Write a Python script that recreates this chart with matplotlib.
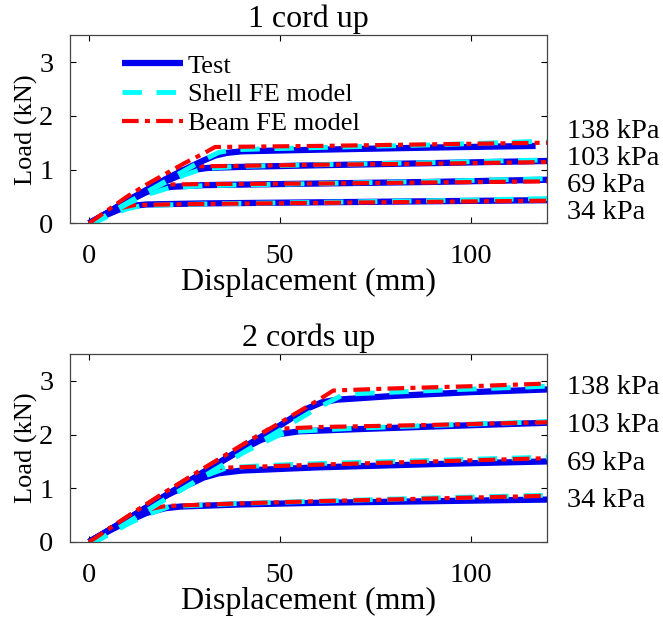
import matplotlib
matplotlib.use("Agg")
import matplotlib.pyplot as plt

plt.rcParams['font.family'] = ['Liberation Serif', 'DejaVu Serif']
plt.rcParams['font.size'] = 20

pressures = ["34 kPa", "69 kPa", "103 kPa", "138 kPa"]

# ---- 1 cord up: (displacement mm, load kN) ----
c1_test_x = [[0, 4, 8, 12, 15, 30, 60, 90, 120],
             [0, 5, 10, 15, 19, 22, 30, 60, 90, 120],
             [0, 5, 10, 15, 20, 25, 28, 31, 40, 60, 90, 120],
             [0, 5, 10, 15, 20, 25, 30, 33, 36, 40, 60, 90, 117]]
c1_test_y = [[0, 0.14, 0.26, 0.33, 0.35, 0.37, 0.39, 0.41, 0.43],
             [0, 0.2, 0.4, 0.58, 0.66, 0.68, 0.71, 0.74, 0.77, 0.81],
             [0, 0.2, 0.42, 0.6, 0.78, 0.93, 1.0, 1.03, 1.05, 1.08, 1.12, 1.16],
             [0, 0.2, 0.42, 0.62, 0.82, 1.0, 1.17, 1.26, 1.31, 1.34, 1.37, 1.41, 1.44]]
c1_shell_x = [[0, 1, 5, 10, 14, 30, 60, 90, 120],
              [0, 1, 5, 10, 15, 21, 30, 60, 90, 120],
              [0, 1, 5, 10, 15, 20, 25, 30, 40, 60, 90, 120],
              [0, 1, 5, 10, 15, 20, 25, 30, 34, 38, 60, 90, 120]]
c1_shell_y = [[0, 0, 0.13, 0.27, 0.33, 0.36, 0.39, 0.42, 0.46],
              [0, 0, 0.16, 0.36, 0.53, 0.66, 0.7, 0.74, 0.78, 0.83],
              [0, 0, 0.17, 0.38, 0.58, 0.76, 0.9, 1.02, 1.06, 1.09, 1.13, 1.18],
              [0, 0, 0.17, 0.38, 0.58, 0.78, 0.98, 1.18, 1.32, 1.37, 1.41, 1.46, 1.53]]
c1_beam_x = [[0, 4, 8, 12, 30, 60, 90, 120],
             [0, 5, 10, 15, 19, 30, 60, 90, 120],
             [0, 5, 10, 15, 20, 24, 28, 40, 60, 90, 120],
             [0, 5, 10, 15, 20, 25, 30, 33, 60, 90, 120]]
c1_beam_y = [[0, 0.16, 0.28, 0.34, 0.36, 0.38, 0.4, 0.42],
             [0, 0.22, 0.44, 0.62, 0.72, 0.73, 0.74, 0.76, 0.78],
             [0, 0.24, 0.48, 0.7, 0.88, 1.0, 1.06, 1.07, 1.09, 1.11, 1.14],
             [0, 0.25, 0.5, 0.72, 0.92, 1.12, 1.3, 1.42, 1.44, 1.47, 1.5]]

# ---- 2 cords up ----
c2_test_x = [[0, 5, 10, 15, 20, 24, 40, 60, 90, 120],
             [0, 10, 20, 30, 34, 40, 60, 90, 120],
             [0, 10, 20, 30, 40, 45, 49, 55, 70, 90, 120],
             [0, 10, 20, 30, 40, 50, 57, 61, 65, 80, 100, 120]]
c2_test_y = [[0, 0.2, 0.38, 0.54, 0.63, 0.66, 0.7, 0.73, 0.76, 0.79],
             [0, 0.42, 0.86, 1.2, 1.28, 1.33, 1.39, 1.45, 1.5],
             [0, 0.42, 0.86, 1.3, 1.72, 1.9, 2.0, 2.06, 2.1, 2.15, 2.22],
             [0, 0.42, 0.86, 1.3, 1.74, 2.17, 2.48, 2.6, 2.65, 2.72, 2.79, 2.84]]
c2_shell_x = [[0, 2, 6, 10, 15, 21, 40, 60, 90, 120],
              [0, 2, 10, 20, 30, 36, 45, 60, 90, 120],
              [0, 2, 10, 20, 30, 40, 50, 54, 70, 90, 120],
              [0, 2, 10, 20, 30, 40, 50, 60, 66, 70, 90, 120]]
c2_shell_y = [[0, 0.02, 0.17, 0.33, 0.5, 0.66, 0.72, 0.76, 0.82, 0.87],
              [0, 0.02, 0.36, 0.8, 1.22, 1.38, 1.42, 1.46, 1.52, 1.58],
              [0, 0.02, 0.36, 0.8, 1.22, 1.65, 2.0, 2.06, 2.12, 2.17, 2.24],
              [0, 0.02, 0.36, 0.8, 1.22, 1.65, 2.08, 2.5, 2.72, 2.76, 2.82, 2.9]]
c2_beam_x = [[0, 5, 10, 15, 20, 40, 60, 90, 120],
             [0, 10, 20, 30, 34, 60, 90, 120],
             [0, 10, 20, 30, 40, 47, 60, 90, 120],
             [0, 10, 20, 30, 40, 50, 60, 64, 80, 100, 120]]
c2_beam_y = [[0, 0.24, 0.44, 0.6, 0.67, 0.72, 0.76, 0.81, 0.86],
             [0, 0.47, 0.93, 1.3, 1.38, 1.44, 1.5, 1.56],
             [0, 0.47, 0.93, 1.37, 1.8, 2.1, 2.14, 2.18, 2.23],
             [0, 0.47, 0.93, 1.37, 1.8, 2.22, 2.64, 2.82, 2.86, 2.9, 2.95]]

# label heights (kN) for pressure text right of each panel
c1_label_y = [0.2, 0.7, 1.2, 1.7]
c2_label_y = [0.77, 1.47, 2.16, 2.87]

fig = plt.figure(figsize=(6.63, 6.19), dpi=100)
ax1 = fig.add_axes([0.1056, 0.6393, 0.7195, 0.3037])
ax2 = fig.add_axes([0.1056, 0.1244, 0.7195, 0.3037])

panels = [(ax1, "1 cord up", c1_test_x, c1_test_y, c1_shell_x, c1_shell_y, c1_beam_x, c1_beam_y, c1_label_y),
          (ax2, "2 cords up", c2_test_x, c2_test_y, c2_shell_x, c2_shell_y, c2_beam_x, c2_beam_y, c2_label_y)]

for ax, title, tx, ty, sx, sy, bx, by, ly in panels:
    for i in range(len(pressures)):
        ax.plot(tx[i], ty[i], '-', color='#0000ee', lw=4.5, solid_capstyle='butt',
                label='Test' if i == 0 else None)
        ax.plot(sx[i], sy[i], '--', color='#00ffff', lw=3.5, dashes=(4, 3),
                label='Shell FE model' if i == 0 else None)
        ax.plot(bx[i], by[i], '-.', color='#ff0000', lw=3, dashes=(4, 1.5, 1.2, 1.5),
                label='Beam FE model' if i == 0 else None)
        ax.text(1.042, ly[i], pressures[i], transform=ax.get_yaxis_transform(),
                ha='left', va='center', fontsize=20.5)
    ax.set_xlim(-5, 120)
    ax.set_ylim(0, 3.5)
    ax.set_xticks([0, 50, 100])
    ax.set_yticks([0, 1, 2, 3])
    ax.tick_params(direction='in', top=True, right=True, length=4, width=0.8,
                   labelsize=20.5)
    ax.tick_params(axis='x', pad=15)
    ax.tick_params(axis='y', pad=12)
    for sp in ax.spines.values():
        sp.set_color('#444444')
        sp.set_linewidth(0.9)
    ax.set_title(title, fontsize=23, pad=6)
    ax.set_xlabel('Displacement (mm)', fontsize=23, labelpad=-1)
    ax.set_ylabel('Load (kN)', fontsize=19, labelpad=1)

ax1.legend(loc='upper left', bbox_to_anchor=(0.109, 0.90), frameon=False,
           fontsize=19, handlelength=2.3, handletextpad=0.2, labelspacing=0.2,
           borderaxespad=0, borderpad=0)

fig.savefig('out.png', dpi=100)
